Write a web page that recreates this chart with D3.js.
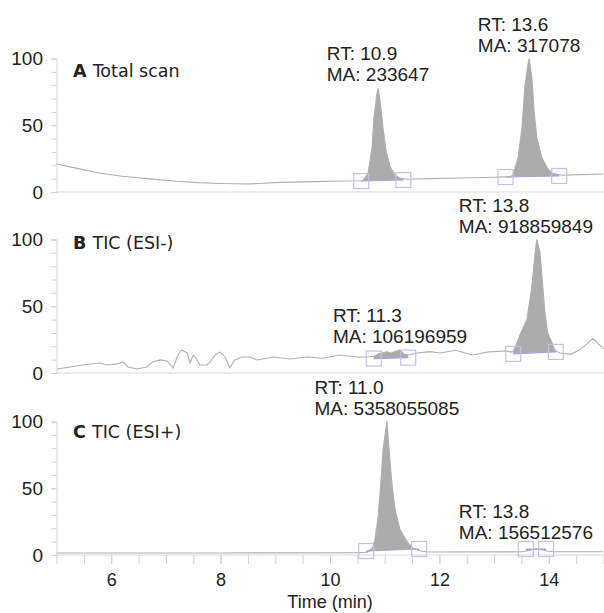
<!DOCTYPE html>
<html><head><meta charset="utf-8">
<script src="https://cdn.jsdelivr.net/npm/d3@7/dist/d3.min.js"></script>
<style>body{margin:0;background:#fff}</style>
</head><body><svg id="c" width="604" height="613"></svg>
<script>
// ---------- data ----------
const panelLetters = ["A", "B", "C"];
const panelTitles = ["Total scan", "TIC (ESI-)", "TIC (ESI+)"];
const panelLabelLevel = [86, 93, 88];            // y-value where the panel caption sits
const xDomain = [5, 15];
const yDomain = [0, 100];
const xTickLabels = [6, 8, 10, 12, 14];
const yTickLabels = [0, 50, 100];

const traceA = [[5.0,21],[5.4,17.5],[5.8,14],[6.2,11.8],[6.7,9.8],[7.2,8],[7.6,7],[8.0,6.4],[8.5,6],
  [9.1,7.2],[9.7,7.8],[10.3,8.2],[10.6,8.4],[10.695,14],[10.768,33],[10.804,56],[10.859,74],[10.878,77.6],
  [10.914,69],[10.969,48],[11.024,31],[11.097,19],[11.188,12.7],[11.28,10.4],[11.4,9.5],[11.8,10],
  [12.4,10.5],[13.0,11],[13.3,11.5],[13.345,12.7],[13.44,26],[13.51,48.5],[13.56,78],[13.62,96],[13.64,100],
  [13.69,86],[13.73,61],[13.78,41],[13.87,26],[13.97,18],[14.06,14],[14.25,12.5],[14.6,13],[15,13.5]];

const traceB = [[5.01,3],[5.25,4.5],[5.48,6],[5.8,7.5],[5.92,6],[6.11,6.8],[6.22,8.3],[6.31,4.5],[6.47,3],
  [6.65,4.5],[6.76,8.3],[6.89,9.8],[7.02,9],[7.13,3.8],[7.22,13.5],[7.29,17.3],[7.39,15],[7.44,7.5],
  [7.5,13.5],[7.57,9.8],[7.62,6],[7.75,6],[7.81,8.3],[7.9,13.5],[7.99,15.8],[8.08,12],[8.17,3.8],
  [8.26,9.8],[8.39,12],[8.54,12],[8.67,9.8],[8.96,12],[9.27,10.5],[9.58,12],[9.87,11],[10.18,13.5],
  [10.49,12],[10.68,12],[10.8,12.5],[10.9,14.5],[11.04,15.8],[11.12,15],[11.19,16],[11.28,17.3],
  [11.36,14],[11.43,13.5],[11.59,15],[11.83,16],[12.01,15],[12.3,17],[12.6,13.5],[12.9,15.8],[13.2,16.5],
  [13.3,15.8],[13.345,15.8],[13.418,22.6],[13.473,28.6],[13.6,40],[13.69,65],[13.75,90],[13.78,100],
  [13.84,90],[13.89,65],[13.93,45],[13.98,30],[14.06,22.6],[14.11,17.3],[14.2,15],[14.4,14],[14.55,17],
  [14.7,22],[14.81,26],[14.9,22],[15,18]];

const traceC = [[5,1.5],[8,1.5],[10.5,1.8],[10.68,2],[10.77,5],[10.82,11],[10.88,28.6],[10.93,54],
  [10.97,79],[11.04,100],[11.08,79],[11.13,54],[11.19,34],[11.28,19],[11.41,10],[11.52,5],[11.65,3],
  [11.8,2.2],[13.5,2.4],[13.62,3.2],[13.72,4.2],[13.8,4.5],[13.88,4],[13.96,3],[14.1,2.4],[15,2.4]];

// integration windows: [start time, start level], [end time, end level], retention time, area
const peaksA = [
  {rt: "10.9", ma: "233647", from: [10.57, 8.2], to: [11.34, 9]},
  {rt: "13.6", ma: "317078", from: [13.21, 11.2], to: [14.19, 12]}];
const peaksB = [
  {rt: "11.3", ma: "106196959", from: [10.80, 10.8], to: [11.43, 11.5]},
  {rt: "13.8", ma: "918859849", from: [13.35, 14.3], to: [14.13, 15.8]}];
const peaksC = [
  {rt: "11.0", ma: "5358055085", from: [10.66, 3], to: [11.63, 4.5]},
  {rt: "13.8", ma: "156512576", from: [13.58, 4.5], to: [13.95, 4.5]}];

const traces = [traceA, traceB, traceC];
const peaks = [peaksA, peaksB, peaksC];

// ---------- drawing ----------
const svg = d3.select("#c");
const W = 604;
const x = d3.scaleLinear().domain(xDomain).range([56.5, 603.5]);
const panelTops = [58.5, 239.5, 421.5];
const panelH = 133.5;
const tickFont = "'Liberation Sans', Arial, sans-serif";

function interp(tr, t) {
  for (let i = 1; i < tr.length; i++) {
    if (tr[i][0] >= t) {
      const a = tr[i-1], b = tr[i];
      const f = (t - a[0]) / (b[0] - a[0]);
      return a[1] + f * (b[1] - a[1]);
    }
  }
  return tr[tr.length-1][1];
}

traces.forEach((tr, i) => {
  const y = d3.scaleLinear().domain(yDomain).range([panelTops[i] + panelH, panelTops[i]]);
  const g = svg.append("g");

  // baseline (y = 0) line
  g.append("line").attr("x1", x(xDomain[0])).attr("x2", W)
    .attr("y1", y(0)).attr("y2", y(0)).attr("stroke", "#dadada").attr("stroke-width", 1.2);

  // y axis: minor ticks
  const yMinor = g.append("g").attr("transform", `translate(${x(xDomain[0])},0)`)
    .call(d3.axisLeft(y).tickValues(d3.range(0, 101, 10)).tickSize(5).tickFormat(""));
  yMinor.select(".domain").attr("stroke", "#d6d6d6");
  yMinor.selectAll(".tick line").attr("stroke", "#d2d2d2");
  const yLab = g.append("g").attr("transform", `translate(${x(xDomain[0])},0)`)
    .call(d3.axisLeft(y).tickValues(yTickLabels).tickSize(5).tickPadding(8.5));
  yLab.select(".domain").remove();
  yLab.selectAll(".tick line").attr("stroke", "#d2d2d2");
  yLab.selectAll("text").attr("font-family", tickFont).attr("font-size", 19).attr("fill", "#222");

  // panel caption
  const cap = g.append("text").attr("x", x(xDomain[0]) + 16.5).attr("y", y(panelLabelLevel[i]))
    .attr("font-family", "'DejaVu Sans', Verdana, sans-serif").attr("font-size", 17.5).attr("fill", "#222");
  cap.append("tspan").attr("font-weight", "bold").text(panelLetters[i] + " ");
  cap.append("tspan").text(panelTitles[i]);

  // peak fills
  peaks[i].forEach(p => {
    const t0 = p.from[0], t1 = p.to[0];
    const inside = tr.filter(d => d[0] > t0 && d[0] < t1);
    const pts = [[t0, interp(tr, t0)], ...inside, [t1, interp(tr, t1)]];
    const base = t => p.from[1] + (t - t0) / (t1 - t0) * (p.to[1] - p.from[1]);
    const area = d3.area().x(d => x(d[0])).y0(d => y(Math.min(base(d[0]), d[1])))
      .y1(d => y(Math.max(d[1], base(d[0]))));
    g.append("path").datum(pts).attr("d", area).attr("fill", "#acacac").attr("stroke", "none");
  });

  // trace
  const line = d3.line().x(d => x(d[0])).y(d => y(d[1]));
  g.append("path").datum(tr).attr("d", line).attr("fill", "none")
    .attr("stroke", "#b0b0b0").attr("stroke-width", 1.1);

  // integration baselines + squares + annotations
  peaks[i].forEach(p => {
    g.append("line").attr("x1", x(p.from[0])).attr("y1", y(p.from[1]))
      .attr("x2", x(p.to[0])).attr("y2", y(p.to[1]))
      .attr("stroke", "#a4a4de").attr("stroke-width", 1.1);
    [p.from, p.to].forEach(pt => {
      g.append("rect").attr("x", x(pt[0]) - 7.5).attr("y", y(pt[1]) - 7.5)
        .attr("width", 15).attr("height", 15).attr("fill", "none")
        .attr("stroke", "#c0c0f0").attr("stroke-width", 1.2);
    });
    const inside = tr.filter(d => d[0] >= p.from[0] && d[0] <= p.to[0]);
    const apex = inside.reduce((a, b) => b[1] > a[1] ? b : a);
    const ax = x(apex[0]);
    const ay = Math.min(y(apex[1]), y(p.from[1]) - 3);
    const t = g.append("text").attr("font-family", tickFont).attr("font-size", 19).attr("fill", "#222");
    const l1 = t.append("tspan").attr("y", ay - 28).text("RT: " + p.rt);
    const l2 = t.append("tspan").attr("y", ay - 7).text("MA: " + p.ma);
    const w = Math.max(l1.node().getComputedTextLength(), l2.node().getComputedTextLength());
    let left = ax - w / 2;
    if (left + w > W - 11) left = W - 11 - w;
    l1.attr("x", left); l2.attr("x", left);
  });

  // bottom axis on the last panel
  if (i === traces.length - 1) {
    const xMinor = g.append("g").attr("transform", `translate(0,${y(0)})`)
      .call(d3.axisBottom(x).tickValues(d3.range(5, 15.01, 0.5)).tickSize(9).tickFormat(""));
    xMinor.select(".domain").remove();
    xMinor.selectAll(".tick line").attr("stroke", "#d2d2d2");
    const xLab = g.append("g").attr("transform", `translate(0,${y(0)})`)
      .call(d3.axisBottom(x).tickValues(xTickLabels).tickSize(9).tickPadding(9).tickFormat(d3.format("d")));
    xLab.select(".domain").remove();
    xLab.selectAll(".tick line").attr("stroke", "#d2d2d2");
    xLab.selectAll("text").attr("font-family", tickFont).attr("font-size", 18).attr("fill", "#222");
    g.append("text").attr("x", (x.range()[0] + x.range()[1]) / 2).attr("y", 608)
      .attr("text-anchor", "middle").attr("font-family", tickFont).attr("font-size", 18)
      .attr("fill", "#222").text("Time (min)");
  }
});
</script></body></html>
